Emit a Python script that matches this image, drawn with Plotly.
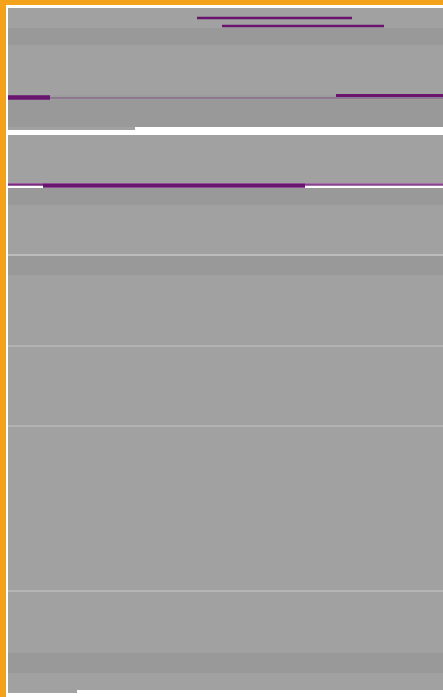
import plotly.graph_objects as go

# Horizontal bands of the dense text block (top row, bottom row, start col, end col, shade)
band_top = [8, 28, 45, 60, 95, 100, 127, 135, 150, 188, 205, 254, 256, 275, 345, 347, 425, 427, 590, 592, 653, 673, 690]
band_bottom = [28, 45, 60, 95, 100, 127, 130, 150, 183, 205, 254, 256, 275, 345, 347, 425, 427, 590, 592, 653, 673, 690, 693]
band_start = [8] * 23
band_end = [443, 443, 443, 443, 443, 443, 135, 443, 443, 443, 443, 443, 443, 443, 443, 443, 443, 443, 443, 443, 443, 443, 77]
band_shade = [0.63, 0.60, 0.63, 0.63, 0.61, 0.60, 0.63, 0.63, 0.63, 0.60, 0.63, 0.74, 0.60, 0.63, 0.70, 0.63, 0.70, 0.63, 0.71, 0.63, 0.60, 0.63, 0.64]

# Purple highlighted segments (row centre, thickness, start col, end col)
hl_row = [18, 26, 98, 97.5, 95.5, 185.5, 184.5, 184.5]
hl_thick = [2.5, 2.5, 1.5, 4.5, 3, 4.5, 2.5, 2.5]
hl_start = [197, 222, 8, 8, 336, 43, 8, 305]
hl_end = [352, 384, 443, 50, 443, 305, 43, 443]
hl_alpha = [1.0, 1.0, 0.35, 1.0, 1.0, 1.0, 0.9, 0.8]


def grey(v):
    c = int(round(v * 255))
    return f"rgb({c},{c},{c})"


fig = go.Figure()
fig.add_trace(go.Bar(
    orientation="h",
    y=[(a + b) / 2 for a, b in zip(band_top, band_bottom)],
    width=[b - a for a, b in zip(band_top, band_bottom)],
    base=band_start,
    x=[e - s for s, e in zip(band_start, band_end)],
    marker=dict(color=[grey(v) for v in band_shade], line=dict(width=0)),
    hoverinfo="skip",
    showlegend=False,
))
fig.add_trace(go.Bar(
    orientation="h",
    y=hl_row,
    width=hl_thick,
    base=hl_start,
    x=[e - s for s, e in zip(hl_start, hl_end)],
    marker=dict(color=[f"rgba(106,20,112,{a})" for a in hl_alpha], line=dict(width=0)),
    hoverinfo="skip",
    showlegend=False,
))

fig.update_layout(
    width=443,
    height=697,
    margin=dict(l=6, r=0, t=5, b=0),
    paper_bgcolor="#f4a11c",
    plot_bgcolor="#ffffff",
    barmode="overlay",
    xaxis=dict(range=[6, 443], visible=False, fixedrange=True),
    yaxis=dict(range=[697, 5], visible=False, fixedrange=True),
)

fig.write_html(
    "out.html",
    config={"displayModeBar": False},
    post_script="document.body.style.margin='0';document.body.style.overflow='hidden';",
)
